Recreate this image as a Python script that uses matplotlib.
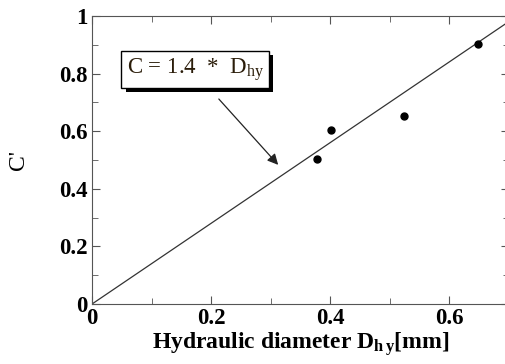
import matplotlib.pyplot as plt
from matplotlib.ticker import MultipleLocator
import matplotlib.patheffects as pe

# Data
d_hy = [0.378, 0.401, 0.525, 0.648]
c_meas = [0.503, 0.603, 0.653, 0.903]
slope = 1.4
fit_x = [0.0, 0.7]
fit_y = [slope * x for x in fit_x]

plt.rcParams['font.family'] = 'Liberation Serif'
plt.rcParams['mathtext.fontset'] = 'custom'
plt.rcParams['mathtext.rm'] = 'Liberation Serif'
plt.rcParams['mathtext.bf'] = 'Liberation Serif:bold'
plt.rcParams['mathtext.it'] = 'Liberation Serif:italic'

fig = plt.figure(figsize=(5.05, 3.64), dpi=100)
ax = fig.add_axes([0.1822, 0.1648, 0.8248, 0.7912])

ax.plot(fit_x, fit_y, color='#333333', lw=0.9)
ax.plot(d_hy, c_meas, 'o', color='black', ms=5)

ax.set_xlim(0, 0.7)
ax.set_ylim(0, 1)
ax.xaxis.set_major_locator(MultipleLocator(0.2))
ax.xaxis.set_minor_locator(MultipleLocator(0.1))
ax.yaxis.set_major_locator(MultipleLocator(0.2))
ax.yaxis.set_minor_locator(MultipleLocator(0.1))
ax.xaxis.set_major_formatter(lambda v, p: '0' if v == 0 else f'{v:g}')
ax.yaxis.set_major_formatter(lambda v, p: '0' if v == 0 else f'{v:g}')
ax.tick_params(which='both', direction='in', top=True, right=True, color='#555555')
ax.tick_params(which='major', length=6, labelsize=16.5, pad=3)
ax.tick_params(which='minor', length=4)
for lab in ax.get_xticklabels() + ax.get_yticklabels():
    lab.set_fontweight('bold')
for sp in ax.spines.values():
    sp.set_color('#555555')

ax.set_xlabel(r'Hydraulic diameter D$_{\mathbf{h\,y}}$[mm]', fontsize=17, fontweight='bold', labelpad=1)
ax.set_ylabel("C'", fontsize=17, labelpad=22)

t = ax.text(0.058, 0.815, r'C = 1.4  *  D$_{\mathrm{hy}}$', fontsize=16.5, color='#2b1d0a',
            va='center', ha='left',
            bbox=dict(boxstyle='square,pad=0.22', fc='white', ec='black', lw=1))
t.get_bbox_patch().set_path_effects([pe.withSimplePatchShadow(offset=(3, -3), shadow_rgbFace='black', alpha=1)])

ax.annotate('', xy=(0.316, 0.476), xytext=(0.210, 0.719),
            arrowprops=dict(arrowstyle='-|>', color='#222222', lw=0.9, mutation_scale=16))

fig.savefig('out.png', dpi=100)
